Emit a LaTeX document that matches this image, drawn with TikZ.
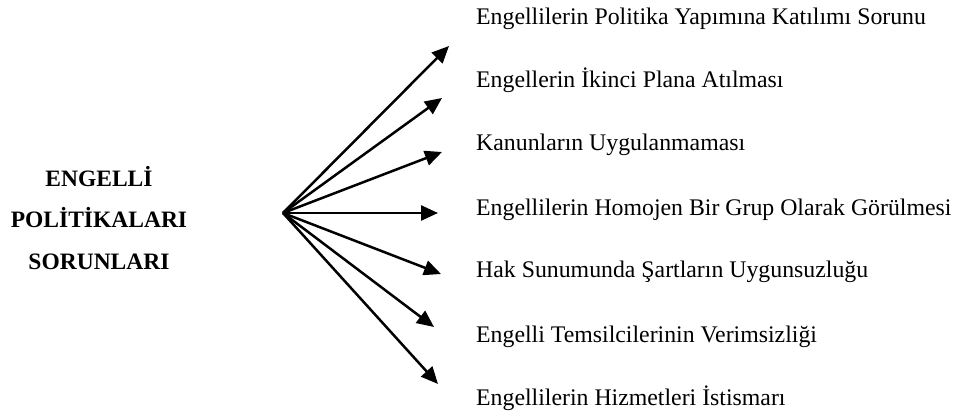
\documentclass[tikz,border=0pt]{standalone}
\usepackage{fontspec}
\setmainfont{Liberation Serif}
\usetikzlibrary{arrows.meta}

\begin{document}
\begin{tikzpicture}[x=1pt, y=-1pt,
      title/.style={align=center, inner sep=0pt, font=\bfseries\fontsize{23.5}{41.5}\selectfont},
      item/.style={anchor=base west, inner sep=0pt, font=\fontsize{23.8}{28}\selectfont},
      arr/.style={-{Triangle[length=17pt, width=15pt]}, line width=2.5pt, color=black}
    ]
      \useasboundingbox (0,0) rectangle (961,414);

      % Left: title
      \node[title] (title) at (99,218) {ENGELLİ\\POLİTİKALARI\\SORUNLARI};

      % Fan: hub and arrow tips
      \coordinate (hub) at (283,213);
      \coordinate (tip1) at (449,46);
      \coordinate (tip2) at (442,98);
      \coordinate (tip3) at (442,152);
      \coordinate (tip4) at (438,213);
      \coordinate (tip5) at (441,274);
      \coordinate (tip6) at (434,327);
      \coordinate (tip7) at (438,384);

      % Right: problem list
      \node[item] (prob1) at (476,25) {Engellilerin Politika Yapımına Katılımı Sorunu};
      \node[item] (prob2) at (476,88) {Engellerin İkinci Plana Atılması};
      \node[item] (prob3) at (476,151) {Kanunların Uygulanmaması};
      \node[item] (prob4) at (476,215) {Engellilerin Homojen Bir Grup Olarak Görülmesi};
      \node[item] (prob5) at (476,277) {Hak Sunumunda Şartların Uygunsuzluğu};
      \node[item] (prob6) at (476,342) {Engelli Temsilcilerinin Verimsizliği};
      \node[item] (prob7) at (476,405) {Engellilerin Hizmetleri İstismarı};

      % Arrows
      \draw[arr] (hub) -- (tip1);
      \draw[arr] (hub) -- (tip2);
      \draw[arr] (hub) -- (tip3);
      \draw[arr] (hub) -- (tip4);
      \draw[arr] (hub) -- (tip5);
      \draw[arr] (hub) -- (tip6);
      \draw[arr] (hub) -- (tip7);
    \end{tikzpicture}
\end{document}
